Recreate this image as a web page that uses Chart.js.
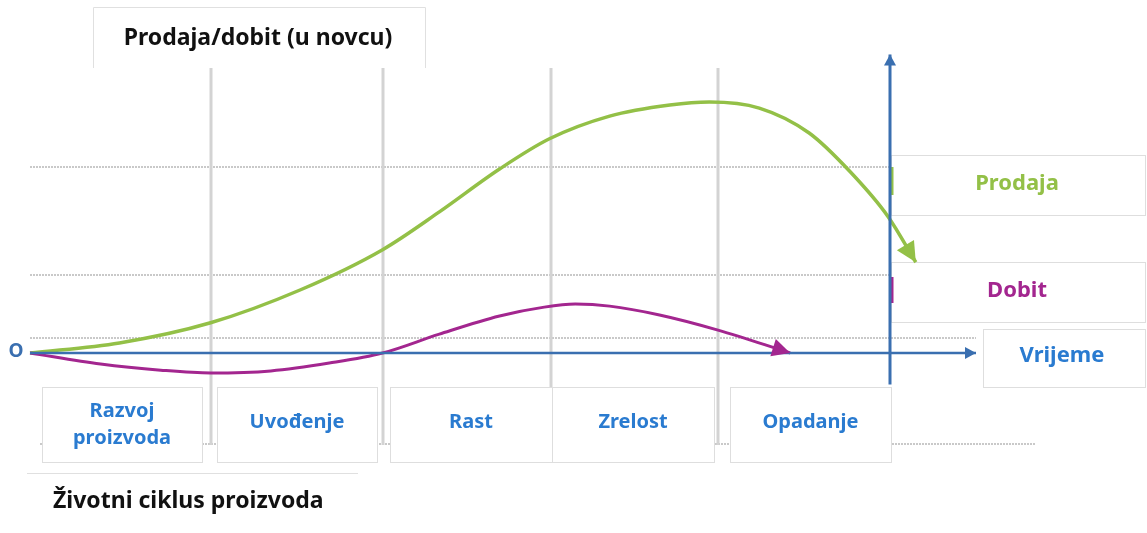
<!DOCTYPE html>
<html>
<head>
<meta charset="utf-8">
<script src="https://cdn.jsdelivr.net/npm/chart.js@4"></script>
<style>
  html, body { margin: 0; padding: 0; background: #ffffff; }
  #wrap { width: 1147px; height: 533px; }
</style>
</head>
<body>
<div id="wrap"><canvas id="plc" width="1147" height="533"></canvas></div>
<script>
// time in phase units (one phase ~ 10), value in % of peak sales
const salesT  = [0, 5.2, 10.5, 15.7, 20.5, 23.8, 27.3, 30.2, 33.7, 37.2, 39.5, 42.4, 45.3, 47.7, 49.9, 51.5];
const salesV  = [0, 4, 12, 25, 41, 56, 73, 85, 94, 98.4, 99.6, 97.2, 87.3, 71.8, 54, 36];
const profitT = [0, 4.1, 7.6, 10.5, 14, 17.4, 20.5, 23.8, 27.3, 29.9, 31.7, 33.7, 36.6, 40, 44.2];
const profitV = [0, -4.4, -6.8, -7.9, -7.1, -4, 0, 7.5, 14.7, 18.2, 19.4, 18.6, 15.1, 9.1, 0];

const timeAxisT  = [0, 55];
const valueAxisT = 50;
const valueAxisV = [-12.5, 118.5];

const phaseBounds = [10.5, 20.5, 30.3, 40];
const gridLevels  = [74, 31, 6];
const phaseLabels = [['Razvoj', 'proizvoda'], ['Uvođenje'], ['Rast'], ['Zrelost'], ['Opadanje']];

const yTitle = 'Prodaja/dobit (u novcu)';
const xTitle = 'Vrijeme';
const footer = 'Životni ciklus proizvoda';

const GREEN = '#93c047';
const PURPLE = '#a3268f';
const BLUE = '#3a6fb0';
const LABEL_BLUE = '#2a7bd0';
const FONT = '"Noto Sans", "Open Sans", sans-serif';

const pts = (xs, ys) => xs.map((x, i) => ({ x: x, y: ys[i] }));

const drawHead = (ctx, tipX, tipY, fromX, fromY, len, half, color) => {
    const a = Math.atan2(tipY - fromY, tipX - fromX);
    ctx.save();
    ctx.translate(tipX, tipY);
    ctx.rotate(a);
    ctx.fillStyle = color;
    ctx.beginPath();
    ctx.moveTo(0, 0);
    ctx.lineTo(-len, -half);
    ctx.lineTo(-len, half);
    ctx.closePath();
    ctx.fill();
    ctx.restore();
};

const box = (ctx, x, y, w, h) => {
    ctx.fillStyle = '#ffffff';
    ctx.fillRect(x, y, w, h);
    ctx.strokeStyle = '#dedede';
    ctx.lineWidth = 1;
    ctx.strokeRect(x + 0.5, y + 0.5, w, h);
};

const text = (ctx, str, x, y, color, size) => {
    ctx.fillStyle = color;
    ctx.font = `bold ${size}px ${FONT}`;
    ctx.textAlign = 'center';
    ctx.textBaseline = 'middle';
    ctx.fillText(str, x, y);
};

const diagramPlugin = {
    id: 'diagram',
    beforeDatasetsDraw(chart) {
        const { ctx, scales: { x, y } } = chart;
        const x0 = x.getPixelForValue(0);
        const xv = x.getPixelForValue(valueAxisT);
        const xEnd = x.getPixelForValue(timeAxisT[1]);
        ctx.save();

        // dotted horizontal guides
        ctx.strokeStyle = '#c9c9c9';
        ctx.lineWidth = 2;
        ctx.setLineDash([2, 1]);
        gridLevels.forEach((v, i) => {
            const py = Math.round(y.getPixelForValue(v));
            ctx.beginPath();
            ctx.moveTo(x0, py);
            ctx.lineTo(i === gridLevels.length - 1 ? xEnd : xv, py);
            ctx.stroke();
        });
        ctx.beginPath();
        ctx.moveTo(x0 + 10, 444);
        ctx.lineTo(1035, 444);
        ctx.stroke();
        ctx.setLineDash([]);

        // phase separators
        ctx.strokeStyle = '#d3d3d3';
        ctx.lineWidth = 3;
        phaseBounds.forEach(t => {
            const px = Math.round(x.getPixelForValue(t));
            ctx.beginPath();
            ctx.moveTo(px, 68);
            ctx.lineTo(px, 445);
            ctx.stroke();
        });

        // title box (open at the bottom)
        ctx.strokeStyle = '#e0e0e0';
        ctx.lineWidth = 1;
        ctx.beginPath();
        ctx.moveTo(93.5, 68);
        ctx.lineTo(93.5, 7.5);
        ctx.lineTo(425.5, 7.5);
        ctx.lineTo(425.5, 68);
        ctx.stroke();
        text(ctx, yTitle, 258, 38, '#111111', 23);

        // phase boxes
        const bx = [[42, 160], [217, 160], [390, 162], [552, 162], [730, 161]];
        phaseLabels.forEach((lines, i) => {
            const [left, w] = bx[i];
            box(ctx, left, 387, w, 75);
            const cx = left + w / 2;
            if (lines.length === 2) {
                text(ctx, lines[0], cx, 411, LABEL_BLUE, 20);
                text(ctx, lines[1], cx, 438, LABEL_BLUE, 20);
            } else {
                text(ctx, lines[0], cx, 422, LABEL_BLUE, 20);
            }
        });

        // legend / axis boxes on the right
        box(ctx, 891, 155, 254, 60);
        text(ctx, 'Prodaja', 1017, 184, GREEN, 22);
        box(ctx, 891, 262, 254, 60);
        text(ctx, 'Dobit', 1017, 291, PURPLE, 22);
        box(ctx, 983, 329, 162, 58);
        text(ctx, xTitle, 1062, 356, LABEL_BLUE, 22);

        // footer
        ctx.strokeStyle = '#e0e0e0';
        ctx.lineWidth = 1;
        ctx.beginPath();
        ctx.moveTo(27, 473.5);
        ctx.lineTo(358, 473.5);
        ctx.stroke();
        ctx.textAlign = 'left';
        ctx.fillStyle = '#111111';
        ctx.font = `bold 23px ${FONT}`;
        ctx.textBaseline = 'middle';
        ctx.fillText(footer, 53, 501);

        // origin label
        text(ctx, 'O', 16, 352, BLUE, 19);

        // legend colour ticks on the value axis
        ctx.lineWidth = 3;
        ctx.strokeStyle = GREEN;
        ctx.beginPath(); ctx.moveTo(xv + 2, 167); ctx.lineTo(xv + 2, 195); ctx.stroke();
        ctx.strokeStyle = PURPLE;
        ctx.beginPath(); ctx.moveTo(xv + 2, 277); ctx.lineTo(xv + 2, 303); ctx.stroke();
        ctx.restore();
    },
    afterDatasetsDraw(chart) {
        const { ctx } = chart;
        chart.data.datasets.forEach((ds, i) => {
            if (!ds.head) return;
            const data = chart.getDatasetMeta(i).data;
            const end = data[data.length - 1];
            const prev = data[data.length - 2];
            let fx = end.cp1x, fy = end.cp1y;
            if (fx === undefined || (Math.abs(fx - end.x) < 0.5 && Math.abs(fy - end.y) < 0.5)) { fx = prev.x; fy = prev.y; }
            drawHead(ctx, end.x, end.y, fx, fy, ds.head[0], ds.head[1], ds.borderColor);
        });
    }
};

const ctx = document.getElementById('plc').getContext('2d');
new Chart(ctx, {
    type: 'line',
    data: {
        datasets: [
            { label: 'Vrijeme', data: pts(timeAxisT, [0, 0]), borderColor: BLUE, borderWidth: 2.5, tension: 0, head: [11, 6] },
            { label: 'Novac', data: pts([valueAxisT, valueAxisT], valueAxisV), borderColor: BLUE, borderWidth: 3, tension: 0, head: [11, 6] },
            { label: 'Dobit', data: pts(profitT, profitV), borderColor: PURPLE, borderWidth: 3, cubicInterpolationMode: 'monotone', head: [18, 9] },
            { label: 'Prodaja', data: pts(salesT, salesV), borderColor: GREEN, borderWidth: 3.5, cubicInterpolationMode: 'monotone', head: [20, 10] }
        ]
    },
    options: {
        responsive: false,
        animation: false,
        devicePixelRatio: 1,
        layout: { padding: 0 },
        elements: { point: { radius: 0 } },
        scales: {
            x: { type: 'linear', display: false, min: -30 / 17.2, max: (1147 - 30) / 17.2 },
            y: { type: 'linear', display: false, min: -(533 - 353) / 2.52, max: 353 / 2.52 }
        },
        plugins: { legend: { display: false }, tooltip: { enabled: false } }
    },
    plugins: [diagramPlugin]
});
</script>
</body>
</html>
